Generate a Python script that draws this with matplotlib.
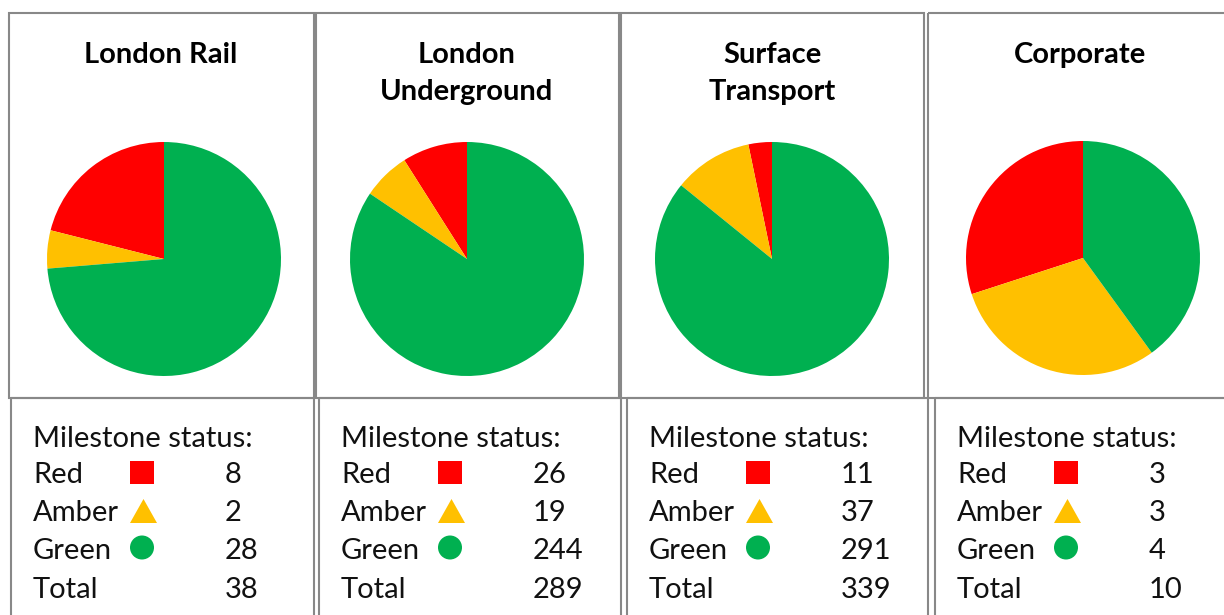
import matplotlib.pyplot as plt
from matplotlib.patches import Rectangle, Polygon, Circle

# milestone counts per business area
areas = ['London Rail', 'London\nUnderground', 'Surface\nTransport', 'Corporate']
red = [8, 26, 11, 3]
amber = [2, 19, 37, 3]
green = [28, 244, 291, 4]

colours = ['#FF0000', '#FFC000', '#00B050']
edge = '#888888'

W, H = 1224, 615
fig = plt.figure(figsize=(W / 100, H / 100), dpi=100)
bg = fig.add_axes([0, 0, 1, 1])
bg.set_xlim(0, W)
bg.set_ylim(H, 0)
bg.axis('off')

# box edges in pixels (left, right) for the pie boxes and the legend boxes
top_boxes = [(9, 314), (316, 619), (621, 924), (928, 1240)]
low_boxes = [(11, 314), (319, 621), (627, 928), (935, 1240)]
pie_x = [164, 467, 772, 1083]
pie_y = [259, 259, 259, 258]
title_x = [161, 467, 772, 1080]
top_y, mid_y = 13, 398

title_font = dict(family=['Lato', 'DejaVu Sans'], fontsize=21, fontweight='bold')
text_font = dict(family=['Lato', 'DejaVu Sans'], fontsize=21, fontweight='normal',
                 color='#111111')

for i, name in enumerate(areas):
    l, r = top_boxes[i]
    bg.add_patch(Rectangle((l, top_y), r - l, mid_y - top_y, fill=False,
                           ec=edge, lw=1.5))
    l2, r2 = low_boxes[i]
    bg.add_patch(Rectangle((l2, mid_y), r2 - l2, 300, fill=False,
                           ec=edge, lw=1.5))

    # title
    for j, line in enumerate(name.split('\n')):
        bg.text(title_x[i], 63 + 37 * j, line, ha='center', va='baseline',
                **title_font)

    # pie
    pcx, pcy, rad = pie_x[i], pie_y[i], 117
    pax = fig.add_axes([(pcx - rad) / W, 1 - (pcy + rad) / H,
                        2 * rad / W, 2 * rad / H])
    pax.pie([red[i], amber[i], green[i]], colors=colours, startangle=90,
            counterclock=True, radius=1, wedgeprops=dict(linewidth=0))
    pax.set_xlim(-1, 1)
    pax.set_ylim(-1, 1)
    pax.set_aspect('equal')

    # legend block
    tx = l2 + 22
    nx = l2 + 214
    mx = l2 + 131
    total = red[i] + amber[i] + green[i]
    bg.text(tx, 447, 'Milestone status:', va='baseline', **text_font)
    rows = [('Red', red[i], 483), ('Amber', amber[i], 521),
            ('Green', green[i], 559), ('Total', total, 598)]
    for label, val, y in rows:
        bg.text(tx, y, label, va='baseline', **text_font)
        bg.text(nx, y, str(val), va='baseline', **text_font)
    bg.add_patch(Rectangle((mx - 12, 461), 24, 23, color=colours[0], lw=0))
    bg.add_patch(Polygon([(mx - 12, 523), (mx + 15, 523), (mx + 1.5, 499)],
                         closed=True, color=colours[1], lw=0))
    bg.add_patch(Circle((mx, 547.5), 12, color=colours[2], lw=0))

fig.savefig('out.png', dpi=100)
